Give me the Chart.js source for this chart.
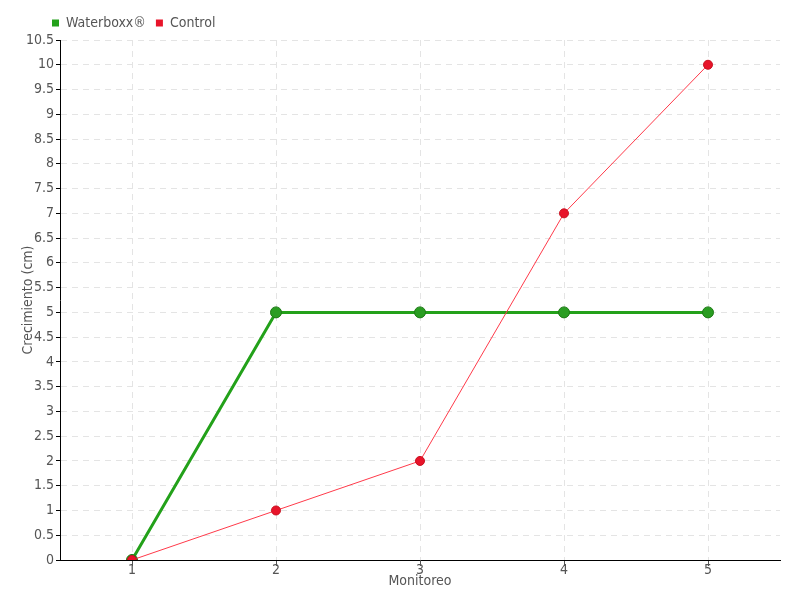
<!DOCTYPE html>
<html>
<head>
<meta charset="utf-8">
<script src="https://cdn.jsdelivr.net/npm/chart.js@4"></script>
<style>
  html, body { margin: 0; padding: 0; background: #fff; }
  #wrap { width: 800px; height: 600px; }
</style>
</head>
<body>
<div id="wrap"><canvas id="chart"></canvas></div>
<script>
const labels = ["1", "2", "3", "4", "5"];
const waterboxx = [0, 5, 5, 5, 5];
const control = [0, 1, 2, 7, 10];

const FONT = "'DejaVu Sans Condensed', sans-serif";

// nudge legend to the right, like the original
const legendShift = {
  id: "legendShift",
  afterLayout(chart) {
    chart.legend.left += 42;
    chart.legend.right += 42;
  },
};

const ctx = document.getElementById("chart").getContext("2d");

const chart = new Chart(ctx, {
  type: "line",
  data: {
    labels: labels,
    datasets: [
      {
        label: "Waterboxx®",
        data: waterboxx,
        borderColor: "#23a11a",
        backgroundColor: "#23a11a",
        borderWidth: 3,
        pointRadius: 5.5,
        pointBorderWidth: 1,
        pointBackgroundColor: "#2a9d22",
        pointBorderColor: "#1d7a15",
        tension: 0,
        order: 1,
      },
      {
        label: "Control",
        data: control,
        borderColor: "#ff3a4a",
        backgroundColor: "#e8142a",
        borderWidth: 1,
        pointRadius: 4.5,
        pointBorderWidth: 1,
        pointBackgroundColor: "#e8142a",
        pointBorderColor: "#c8101f",
        tension: 0,
        order: 0,
      },
    ],
  },
  plugins: [legendShift],
  options: {
    responsive: true,
    maintainAspectRatio: false,
    animation: false,
    layout: {
      padding: { left: 0, right: 20, top: 6, bottom: 0 },
    },
    plugins: {
      legend: {
        display: true,
        position: "top",
        align: "start",
        labels: {
          boxWidth: 7,
          boxHeight: 7,
          padding: 10,
          color: "#555",
          font: { family: FONT, size: 14 },
          sort: (a, b) => a.datasetIndex - b.datasetIndex,
          generateLabels: (chart) => {
            const items = Chart.defaults.plugins.legend.labels.generateLabels(chart);
            items.forEach((it) => {
              it.lineWidth = 0;
              it.strokeStyle = it.fillStyle;
            });
            return items;
          },
        },
      },
      tooltip: { enabled: false },
    },
    scales: {
      x: {
        type: "category",
        offset: true,
        afterFit: (scale) => {
          scale.height = 40;
        },
        title: {
          display: true,
          text: "Monitoreo",
          color: "#555",
          font: { family: FONT, size: 14 },
          padding: { top: 10, bottom: 10 },
        },
        ticks: {
          color: "#555",
          font: { family: FONT, size: 14 },
          padding: -4,
        },
        grid: {
          offset: false,
          color: "#e4e4e4",
          tickColor: "#555",
          tickLength: 6,
          tickBorderDash: [],
        },
        border: {
          color: "#000",
          width: 1,
          dash: [6, 5],
        },
      },
      y: {
        min: 0,
        max: 10.5,
        afterFit: (scale) => {
          scale.width = 60;
        },
        title: {
          display: true,
          text: "Crecimiento (cm)",
          color: "#555",
          font: { family: FONT, size: 14 },
          padding: { top: 20, bottom: 20 },
        },
        ticks: {
          stepSize: 0.5,
          color: "#555",
          font: { family: FONT, size: 14 },
          padding: 2,
          callback: (v) => String(v),
        },
        grid: {
          color: "#e4e4e4",
          tickColor: "#000",
          tickLength: 4,
          tickBorderDash: [],
        },
        border: {
          color: "#000",
          width: 1,
          dash: [6, 5],
        },
      },
    },
  },
});
</script>
</body>
</html>
